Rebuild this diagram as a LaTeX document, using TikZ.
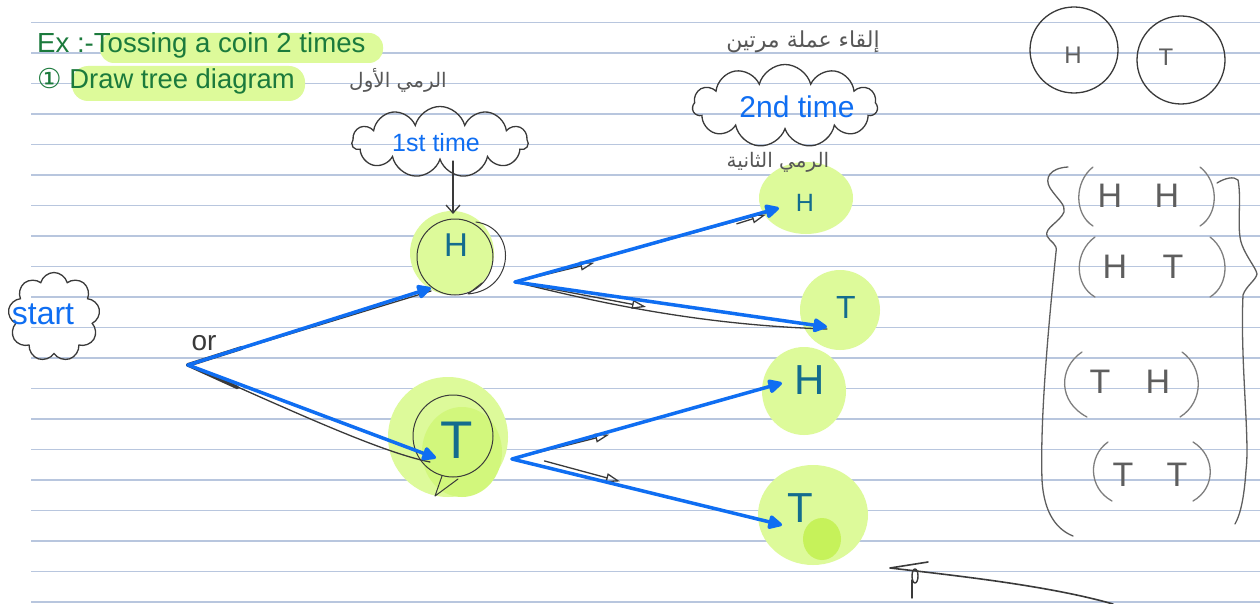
\documentclass[tikz,border=0pt]{standalone}
\usepackage{fontspec}
\setmainfont{Liberation Sans}
\newfontfamily\dejavu{DejaVu Sans}
\newfontfamily\arabicfont[Script=Arabic]{DejaVu Sans}
\TeXXeTstate=1
\usetikzlibrary{shapes.symbols,arrows.meta,calc}
\definecolor{ruleblue}{HTML}{B8C6DE}
\definecolor{inkgreen}{HTML}{1B7A3C}
\definecolor{hilite}{HTML}{DDFA9A}
\definecolor{hilitedark}{HTML}{D2F77C}
\definecolor{dotgreen}{HTML}{C6F25A}
\definecolor{penblue}{HTML}{0F6EF2}
\definecolor{nodeink}{HTML}{136C8E}
\definecolor{pencil}{HTML}{3A3A3A}
\definecolor{setink}{HTML}{5E5E5E}
\tikzset{
 ruleline/.style={draw=ruleblue, line width=1.4pt},
 pen/.style={draw=penblue, line width=3.5pt, line cap=round, -{Triangle[length=16pt,width=15pt,round]}},
 sketch/.style={draw=pencil, line width=1.3pt, line cap=round, line join=round},
 marktri/.style={sketch, -{Triangle[open,length=14pt,width=9pt]}},
 bubble/.style={cloud, cloud puffs=11, cloud ignores aspect, draw=pencil, line width=1.3pt, inner sep=0pt},
 nodetxt/.style={text=nodeink, inner sep=0pt},
 bluetxt/.style={text=penblue, inner sep=0pt},
 greentxt/.style={text=inkgreen, anchor=base west, inner sep=0pt},
 settxt/.style={text=setink, inner sep=0pt, font=\fontsize{34}{34}\selectfont},
 paren/.style={draw=setink!80, line width=1.3pt, line cap=round},
 artxt/.style={text=pencil!85, inner sep=0pt},
}
\begin{document}
\begin{tikzpicture}[x=1pt,y=-1pt]
\useasboundingbox (0,0) rectangle (1260,604);
\fill[white] (0,0) rectangle (1260,604);
\foreach \k in {0,...,19}{\draw[ruleline] (31,{22.5+30.5*\k}) -- (1260,{22.5+30.5*\k});}

% title highlights and text
\fill[hilite, rounded corners=14pt] (100,33) rectangle (383,63);
\fill[hilite, rounded corners=16pt] (72,66) rectangle (305,101);
\node[greentxt, font=\fontsize{27.6}{28}\selectfont] (title) at (37,53) {Ex :-Tossing a coin 2 times};
\node[greentxt, font=\fontsize{27.4}{28}\selectfont] (task) at (37,89) {{\dejavu ①} Draw tree diagram};

% highlight blobs of the tree
\fill[hilite] (452,253) circle (42);
\fill[hilite] (448,437) circle (60);
\fill[hilitedark] (462,452) ellipse (40 and 45);
\fill[hilite] (806,198) ellipse (47 and 36);
\fill[hilite] (840,310) ellipse (40 and 40);
\fill[hilite] (804,391) ellipse (42 and 44);
\fill[hilite] (813,515) ellipse (55 and 50);
\fill[dotgreen] (822,539) ellipse (19 and 21);

% arabic notes
\node[artxt, font=\arabicfont\fontsize{22}{22}\selectfont] (ar0) at (803,42) {\beginR إلقاء عملة مرتين\endR};
\node[artxt, font=\arabicfont\fontsize{20}{20}\selectfont] (ar1) at (398,80) {\beginR الرمي الأول\endR};
\node[artxt, font=\arabicfont\fontsize{20}{20}\selectfont] (ar2) at (778,162) {\beginR الرمي الثانية\endR};

% tree letters
\node[nodetxt, font=\fontsize{33}{33}\selectfont] (H1) at (456,245) {H};
\node[nodetxt, font=\fontsize{53}{53}\selectfont] (T1) at (457,440) {T};
\node[nodetxt, font=\fontsize{25}{25}\selectfont] (H2) at (805,203) {H};
\node[nodetxt, font=\fontsize{32}{32}\selectfont] (T2) at (846,307) {T};
\node[nodetxt, font=\fontsize{42}{42}\selectfont] (H3) at (810,380) {H};
\node[nodetxt, font=\fontsize{42}{42}\selectfont] (T3) at (800,508) {T};

% points
\coordinate (root) at (188,365);
\coordinate (tipH1) at (431,288);
\coordinate (tipT1) at (436,458);
\coordinate (b1) at (515,282);
\coordinate (tipH2) at (779,208);
\coordinate (tipT2) at (827,327);
\coordinate (b2) at (512,459);
\coordinate (tipH3) at (782,383);
\coordinate (tipT3) at (782,525);
\coordinate (h1top) at (453,214);

% clouds
\node[bubble, minimum width=176pt, minimum height=71pt] (c1) at (440,142) {};
\node[bluetxt, font=\fontsize{25}{25}\selectfont] (l1) at (436,143) {1st time};
\node[bubble, minimum width=185pt, minimum height=83pt] (c2) at (785,106) {};
\node[bluetxt, font=\fontsize{30}{30}\selectfont] (l2) at (797,107) {2nd time};
\node[bubble, cloud puffs=9, minimum width=92pt, minimum height=89pt] (c0) at (54,317) {};
\node[bluetxt, font=\fontsize{32}{32}\selectfont] (l0) at (43,314) {start};

\draw[sketch, -{Straight Barb[length=8pt,width=14pt]}] (c1.south -| h1top) -- (h1top);

% pencil sketch under the pen
\node[text=pencil, inner sep=0pt, font=\fontsize{28}{28}\selectfont] (or) at (204,343) {or};
\draw[sketch] (root) -- ($(tipH1)+(0,3)$);
\draw[sketch, line width=4pt] (root) -- ($(root)!0.22!(tipH1)$);
\draw[sketch] (root) .. controls (290,410) and (380,452) .. ($(tipT1)+(-6,4)$);
\draw[sketch, line width=3.5pt] (root) -- ($(root)!0.2!(tipT1)+(0,4)$);
\draw[sketch, line width=1pt] (455,257) circle (38);
\draw[sketch, line width=1pt] (476,222) .. controls (518,228) and (515,290) .. (468,294) -- (482,283);
\draw[sketch, line width=1pt] (453,436) ellipse (40 and 41);
\draw[sketch, line width=1pt] (442,476) -- (435,496) -- (458,479);

\draw[sketch] (b1) -- ($(tipH2)+(-10,4)$);
\draw[marktri] (b1) -- ($(b1)!0.3!(tipH2)+(0,3)$);
\draw[marktri] ($(b1)!0.84!(tipH2)+(0,4)$) -- ($(b1)!0.95!(tipH2)+(0,3)$);
\draw[sketch] (b1) .. controls (600,303) and (700,325) .. ($(tipT2)+(0,2)$);
\draw[marktri] (b1) -- ($(b1)!0.42!(tipT2)+(0,6)$);
\draw[marktri] (b2) -- ($(b2)!0.36!(tipH3)+(0,3)$);
\draw[marktri] ($(b2)!0.12!(tipT3)+(0,-6)$) -- ($(b2)!0.4!(tipT3)+(0,-4)$);

% pen arrows
\draw[pen] (root) -- (tipH1);
\draw[pen] (root) -- (tipT1);
\draw[pen] (b1) -- (tipH2);
\draw[pen] (b1) -- (tipT2);
\draw[pen] (b2) -- (tipH3);
\draw[pen] (b2) -- (tipT3);

% H and T circles
\draw[sketch] (1074,50) ellipse (44 and 43);
\node[settxt, font=\fontsize{24}{24}\selectfont] (cH) at (1073,55) {H};
\draw[sketch] (1181,60) ellipse (44 and 44);
\node[settxt, font=\fontsize{24}{24}\selectfont] (cT) at (1166,57) {T};

% sample space
\draw[sketch, draw=setink] (1068,167) .. controls (1050,168) and (1044,178) .. (1050,188)
  .. controls (1058,200) and (1066,205) .. (1064,212)
  .. controls (1060,222) and (1044,228) .. (1047,236)
  .. controls (1050,242) and (1058,244) .. (1056,252)
  .. controls (1048,330) and (1040,420) .. (1042,480)
  .. controls (1044,515) and (1058,530) .. (1073,536);
\draw[sketch, draw=setink] (1217,183) .. controls (1225,178) and (1234,176) .. (1238,180)
  .. controls (1242,200) and (1236,230) .. (1242,245)
  .. controls (1247,258) and (1256,268) .. (1257,274)
  .. controls (1256,280) and (1246,286) .. (1243,295)
  .. controls (1240,360) and (1250,440) .. (1246,470)
  .. controls (1244,500) and (1240,515) .. (1235,524);

\draw[paren] (1093,167) .. controls (1074,182) and (1074,214) .. (1093,226);
\draw[paren] (1200,167) .. controls (1219,182) and (1219,214) .. (1200,226);
\node[settxt] (s11) at (1110,196) {H};
\node[settxt] (s12) at (1167,196) {H};

\draw[paren] (1095,237) .. controls (1074,252) and (1074,285) .. (1095,297);
\draw[paren] (1210,237) .. controls (1230,252) and (1230,285) .. (1210,297);
\node[settxt] (s21) at (1115,267) {H};
\node[settxt] (s22) at (1173,267) {T};

\draw[paren] (1082,352) .. controls (1058,368) and (1058,402) .. (1087,417);
\draw[paren] (1182,352) .. controls (1204,368) and (1204,402) .. (1180,417);
\node[settxt] (s31) at (1100,382) {T};
\node[settxt] (s32) at (1158,382) {H};

\draw[paren] (1108,442) .. controls (1088,456) and (1088,488) .. (1112,501);
\draw[paren] (1193,442) .. controls (1216,456) and (1216,488) .. (1193,501);
\node[settxt] (s41) at (1123,475) {T};
\node[settxt] (s42) at (1177,475) {T};

% bottom arrow
\coordinate (arrS) at (1113,604);
\coordinate (arrE) at (890,568);
\draw[sketch, line width=1.6pt] (arrS) .. controls (1050,586) and (960,576) .. (arrE) -- (928,562);
\draw[sketch, line width=1.4pt] ($(arrE)+(25,8)$) ellipse (3 and 7);
\draw[sketch, line width=1.4pt] ($(arrE)+(22,12)$) -- ($(arrE)+(22,30)$);
\end{tikzpicture}
\end{document}
